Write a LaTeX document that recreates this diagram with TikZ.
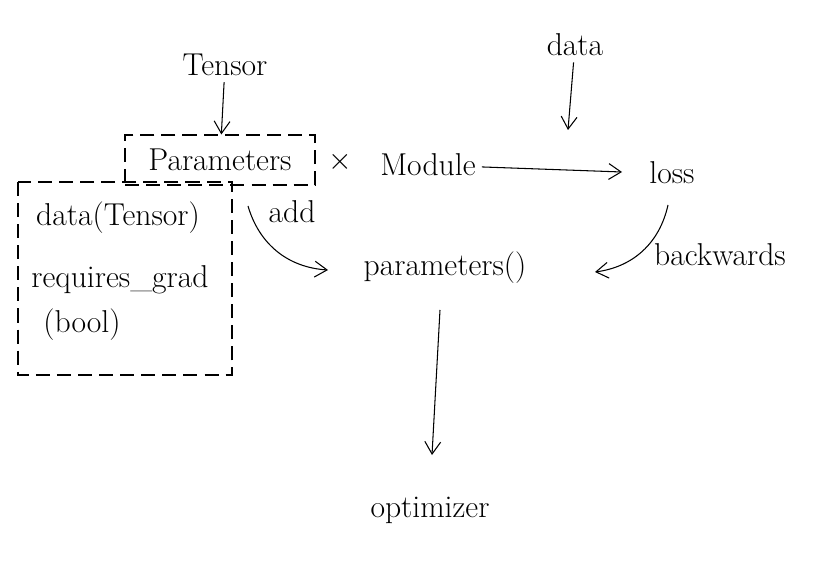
\documentclass[tikz,border=0pt]{standalone}
\usetikzlibrary{arrows.meta}
\begin{document}
\begin{tikzpicture}[x=0.02cm, y=-0.02cm, font=\fontsize{18}{21}\selectfont,
  arr/.style={-{Straight Barb[length=7pt,width=9pt]}, semithick},
  dbox/.style={dashed, semithick, dash pattern=on 8pt off 4pt}]

\useasboundingbox (0,0) rectangle (828,567);

% attributes box
\draw[dbox] (18,182) rectangle (232,375);
\node (attrdata) at (118,218) {data(Tensor)};
\node (attrgrad) at (120,280) {requires\_grad};
\node (attrbool) at (82,325) {(bool)};

% class and module
\node[draw, dbox, minimum width=3.8cm, minimum height=1cm] (params) at (220,160) {Parameters};
\node (tensor) at (225,65) {Tensor};
\node (cross) at (340,162) {$\times$};
\node (module) at (428,165) {Module};
\node (loss) at (672,173) {loss};
\node (data) at (575,45) {data};
\node (plist) at (445,268) {parameters()};
\node (optim) at (430,510) {optimizer};

% free ends
\coordinate (addstart) at (248,206);
\coordinate (addend) at (328,270);
\coordinate (dataend) at (568,130);
\coordinate (lossin) at (622,172);
\coordinate (backstart) at (668,205);
\coordinate (backend) at (595,272);
\coordinate (optstart) at (440,310);
\coordinate (optend) at (432,455);

\draw[arr] (tensor) -- (params);
\draw[arr] (data) -- (dataend);
\draw[arr] (module) -- (lossin);
\draw[arr] (addstart) to[bend right=35] (addend);
\node (add) at (292,212) {add};
\draw[arr] (backstart) to[bend left=35] (backend);
\node (backw) at (720,255) {backwards};
\draw[arr] (optstart) -- (optend);
\end{tikzpicture}
\end{document}
